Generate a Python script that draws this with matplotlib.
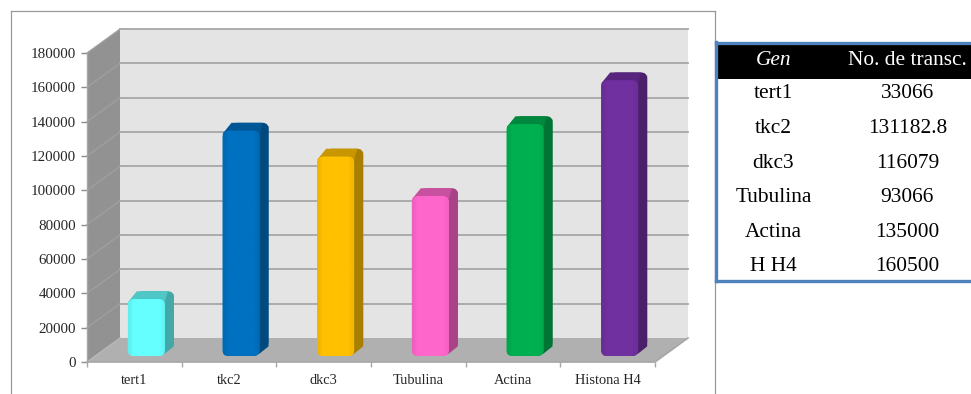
import numpy as np
import matplotlib
matplotlib.use("Agg")
import matplotlib.pyplot as plt
from matplotlib.colors import to_rgb
from matplotlib.patches import FancyBboxPatch, Polygon, Rectangle
from matplotlib.lines import Line2D

plt.rcParams['font.family'] = ['Liberation Serif', 'DejaVu Serif']

# Data
chart_labels = ["tert1", "tkc2", "dkc3", "Tubulina", "Actina", "Histona H4"]
table_labels = ["tert1", "tkc2", "dkc3", "Tubulina", "Actina", "H H4"]
table_text = ["33066", "131182.8", "116079", "93066", "135000", "160500"]
values = [33066, 131182.8, 116079, 93066, 135000, 160500]
colors = ["#66FFFF", "#0070C0", "#FFC000", "#FF66CC", "#00B050", "#7030A0"]
yticks = list(range(0, 180001, 20000))

W, H = 971, 394
fig = plt.figure(figsize=(W / 100, H / 100), dpi=100, facecolor="white")


def box(x0, x1, y_top, y_bot):
    return [x0 / W, 1 - y_bot / H, (x1 - x0) / W, (y_bot - y_top) / H]


# outer chart frame, left open at the bottom
for xs, ys in [((11, 11), (11, 394)), ((11, 715), (11, 11)), ((715, 715), (11, 394))]:
    fig.add_artist(Line2D([x / W for x in xs], [1 - y / H for y in ys], color="#999999", lw=0.9))

# axes = front plane of the 3d box
ax = fig.add_axes(box(87, 655, 53, 362))
ax.set_xlim(-0.5, 5.5)
ax.set_ylim(0, 180000)
ax.patch.set_visible(False)
for s in ax.spines.values():
    s.set_visible(False)

x_per_px = 6 / 568
y_per_px = 180000 / 309
dx = 33 * x_per_px
dy = 24 * y_per_px
x0, x1 = -0.5, 5.5
ymax = 180000

# walls and floor
ax.add_patch(Polygon([(x0, 0), (x0 + dx, dy), (x1 + dx, dy), (x1 + dx, ymax + dy), (x0 + dx, ymax + dy), (x0 + dx, dy)],
                     closed=True, fc="#E4E4E4", ec="none", clip_on=False, zorder=1))
ax.add_patch(Polygon([(x0, 0), (x0 + dx, dy), (x0 + dx, ymax + dy), (x0, ymax)],
                     closed=True, fc="#929292", ec="none", clip_on=False, zorder=1))
ax.add_patch(Polygon([(x0, 0), (x1, 0), (x1 + dx, dy), (x0 + dx, dy)],
                     closed=True, fc="#B0B0B0", ec="none", clip_on=False, zorder=1))

# gridlines, back wall plus the slanted part on the side wall
for v in yticks:
    if v > 0:
        ax.plot([x0 + dx, x1 + dx], [v + dy, v + dy], color="#A6A6A6", lw=1.3, clip_on=False, zorder=2)
    ax.plot([x0, x0 + dx], [v, v + dy], color="#A0A0A0" if v else "#B8B8B8", lw=0.9, clip_on=False, zorder=2)
ax.plot([x0, x1, x1 + dx], [0, 0, dy], color="#A6A6A6", lw=1.2, clip_on=False, zorder=2)
ax.plot([x0, x0], [0, ymax], color="#A6A6A6", lw=1, clip_on=False, zorder=2)

# bars
bw = 37 * x_per_px
bar_dx = 9 * x_per_px
bar_dy = 8 * y_per_px
shift_x = 12 * x_per_px
shift_y = 6 * y_per_px
round_x = 6 * x_per_px
aspect = y_per_px / x_per_px

for i, (v, c) in enumerate(zip(values, colors)):
    rgb = np.array(to_rgb(c))
    left = i + shift_x - bw / 2
    right = left + bw
    bot = shift_y
    top = v + shift_y
    z = 3 + i

    back = FancyBboxPatch((left + bar_dx, bot + bar_dy), bw, v, boxstyle=f"round,pad=0,rounding_size={round_x}",
                          mutation_aspect=aspect, fc=rgb * 0.66, ec="none", clip_on=False, zorder=z)
    ax.add_patch(back)
    ax.add_patch(Polygon([(right - round_x, bot), (right, bot + 0.3 * bar_dy), (right + bar_dx, bot + bar_dy * 1.2),
                          (right + bar_dx, top + bar_dy - 3 * y_per_px), (right, top - 3 * y_per_px)],
                         closed=True, fc=rgb * 0.66, ec="none", clip_on=False, zorder=z))
    ax.add_patch(Polygon([(left, top - 3 * y_per_px), (left + bar_dx, top + bar_dy), (right + bar_dx - round_x, top + bar_dy),
                          (right, top - 3 * y_per_px)],
                         closed=True, fc=rgb * 0.78, ec="none", clip_on=False, zorder=z))

    front = FancyBboxPatch((left, bot), bw, v, boxstyle=f"round,pad=0,rounding_size={round_x}",
                           mutation_aspect=aspect, fc=c, ec="none", clip_on=False, zorder=z + 0.1)
    ax.add_patch(front)
    shade = np.array([0.94, 1, 1, 1, 1, 1, 1, 1, 1, 0.96]).reshape(1, -1, 1)
    img = np.clip(shade * rgb.reshape(1, 1, 3), 0, 1)
    im = ax.imshow(img, extent=(left, right, bot, top), aspect="auto", zorder=z + 0.2, interpolation="bilinear")
    im.set_clip_path(front)

ax.set_xlim(-0.5, 5.5)
ax.set_ylim(0, 180000)

# axis ticks and labels
ax.set_yticks(yticks)
ax.set_yticklabels([str(v) for v in yticks], fontsize=10.8, color="#262626")
ax.set_xticks(np.arange(-0.5, 6, 1))
ax.set_xticklabels([])
ax.tick_params(axis="y", length=4, width=1, color="#8c8c8c", pad=4)
ax.tick_params(axis="x", length=3.5, width=1, color="#a6a6a6")
for i, lab in enumerate(chart_labels):
    ax.annotate(lab, (i, 0), xytext=(0, -19), textcoords="offset pixels", ha="center", va="center",
                fontsize=10.4, color="#262626", annotation_clip=False)

# table on the right
row_h = 34.6
tb = fig.add_axes(box(716, 971, 43, 281))
tb.set_xlim(0, 1)
tb.set_ylim(238 / row_h, 0)
tb.axis("off")
tb.add_patch(Rectangle((0, 0), 1, 36 / row_h, fc="black", ec="none"))
col_gen = 0.225
col_num = 0.75
tb.text(col_gen, 0.5, "Gen", color="white", style="italic", fontsize=15.4, ha="center", va="center")
tb.text(col_num, 0.5, "No. de transc.", color="white", fontsize=15.4, ha="center", va="center")
for i, (g, t) in enumerate(zip(table_labels, table_text)):
    tb.text(col_gen, i + 1.47, g, color="black", fontsize=15.4, ha="center", va="center")
    tb.text(col_num, i + 1.47, t, color="black", fontsize=15.4, ha="center", va="center")
for xs, ys in [((716, 716), (42, 281)), ((716, 971), (43, 43)), ((716, 971), (280.5, 280.5))]:
    fig.add_artist(Line2D([x / W for x in xs], [1 - y / H for y in ys], color="#4F81BD", lw=2.4, zorder=10))

fig.savefig("out.png", dpi=100)
